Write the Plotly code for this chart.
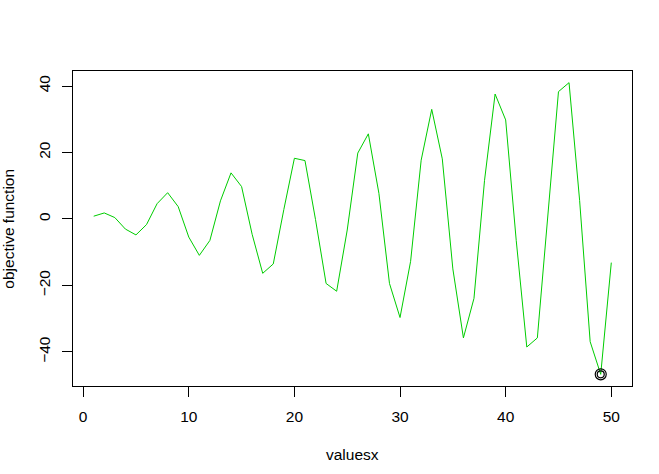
import plotly.graph_objects as go

valuesx = list(range(1, 51))
objective = [0.84, 1.82, 0.42, -3.03, -4.79, -1.68, 4.60, 7.91, 3.71, -5.44,
             -10.94, -6.44, 5.46, 13.87, 9.75, -4.61, -16.34, -13.52, 2.85, 18.26,
             17.57, -0.19, -19.39, -21.73, -3.31, 19.82, 25.61, 7.70, -19.38, -29.64,
             -12.74, 17.68, 32.98, 18.09, -15.01, -35.76, -23.87, 11.63, 37.58, 29.80,
             -6.46, -38.50, -35.77, 0.08, 38.30, 41.00, 5.60, -36.90, -46.72, -13.12]
min_x = [49]
min_y = [-46.72]
xticks = [0, 10, 20, 30, 40, 50]
yticks = [-40, -20, 0, 20, 40]

fig = go.Figure()
fig.add_trace(go.Scatter(x=valuesx, y=objective, mode="lines",
                         line=dict(color="#00CD00", width=1), hoverinfo="skip"))
fig.add_trace(go.Scatter(x=min_x, y=min_y, mode="markers",
                         marker=dict(symbol="circle-open", size=11, color="black",
                                     line=dict(width=1.2, color="black"))))
fig.add_trace(go.Scatter(x=min_x, y=min_y, mode="markers",
                         marker=dict(symbol="circle-open", size=7, color="black",
                                     line=dict(width=1.2, color="black"))))

font = dict(family="Liberation Sans, Arial, sans-serif", size=15.5, color="black")
fig.update_layout(
    width=659, height=474, showlegend=False,
    paper_bgcolor="white", plot_bgcolor="white",
    margin=dict(l=73, r=27, t=71, b=88, autoexpand=False),
    font=font,
    xaxis=dict(range=[-0.96, 51.96], tickvals=xticks, ticks="outside", ticklen=10,
               tickcolor="black", showgrid=False, zeroline=False, showline=True,
               linecolor="black", linewidth=1, mirror=True, tickfont=font,
               ticklabelstandoff=6, automargin=False),
    yaxis=dict(range=[-50.23, 44.51], tickvals=yticks, ticks="outside", ticklen=10,
               tickcolor="black", showgrid=False, zeroline=False, showline=True,
               linecolor="black", linewidth=1, mirror=True, tickfont=font,
               tickangle=-90, ticklabelstandoff=6, automargin=False),
    annotations=[
        dict(text="valuesx", xref="paper", yref="paper", x=0.5, y=-0.218,
             xanchor="center", yanchor="middle", showarrow=False, font=font),
        dict(text="objective function", xref="paper", yref="paper", x=-0.116, y=0.5,
             xanchor="center", yanchor="middle", textangle=-90, showarrow=False, font=font),
    ],
)
fig.write_html("out.html", config={"displayModeBar": False},
               post_script="document.body.style.margin='0';document.body.style.padding='0';")
